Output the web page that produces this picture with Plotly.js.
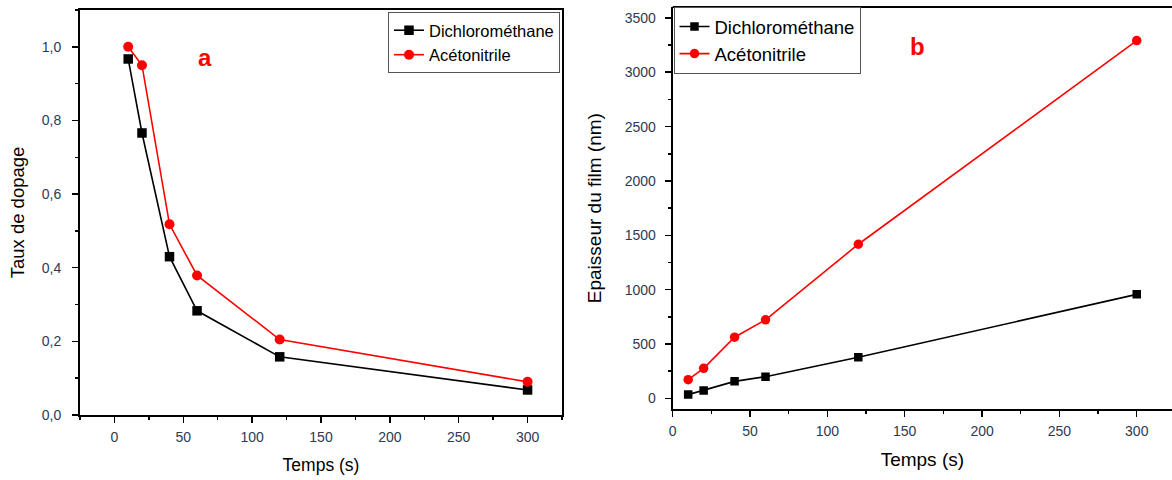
<!DOCTYPE html>
<html>
<head>
<meta charset="utf-8">
<script src="https://cdn.plot.ly/plotly-3.0.1.min.js"></script>
<style>html,body{margin:0;padding:0;background:#fff;overflow:hidden}#chart{width:1172px;height:480px}</style>
</head>
<body>
<div id="chart"></div>
<script>
// Shared time axis (s)
const temps = [10, 20, 40, 60, 120, 300];

// Panel a: Taux de dopage
const dopageDichloro = [0.967, 0.766, 0.430, 0.283, 0.158, 0.068];
const dopageAceto    = [1.000, 0.950, 0.518, 0.379, 0.205, 0.090];

// Panel b: Epaisseur du film (nm)
const epDichloro = [35, 74, 157, 200, 378, 957];
const epAceto    = [172, 277, 563, 723, 1418, 3291];

const seriesNames = ['Dichlorométhane', 'Acétonitrile'];
const panelLabels = ['a', 'b'];
const xTitle = 'Temps (s)';
const yTitleA = 'Taux de dopage';
const yTitleB = 'Epaisseur du film (nm)';

const BLACK = '#000000', RED = '#ff0000';
const FONT = 'Liberation Sans, Arial, sans-serif';

const traces = [
  {x: temps, y: dopageDichloro, name: seriesNames[0], xaxis: 'x', yaxis: 'y', legend: 'legend',
   mode: 'lines+markers', line: {color: BLACK, width: 1.6}, marker: {symbol: 'square', size: 9.5, color: BLACK}},
  {x: temps, y: dopageAceto, name: seriesNames[1], xaxis: 'x', yaxis: 'y', legend: 'legend',
   mode: 'lines+markers', line: {color: RED, width: 1.6}, marker: {symbol: 'circle', size: 10, color: RED}},
  {x: temps, y: epDichloro, name: seriesNames[0], xaxis: 'x2', yaxis: 'y2', legend: 'legend2',
   mode: 'lines+markers', line: {color: BLACK, width: 1.6}, marker: {symbol: 'square', size: 8.5, color: BLACK}},
  {x: temps, y: epAceto, name: seriesNames[1], xaxis: 'x2', yaxis: 'y2', legend: 'legend2',
   mode: 'lines+markers', line: {color: RED, width: 1.6}, marker: {symbol: 'circle', size: 9.5, color: RED}}
];

const W = 1172, H = 480;
const tickFont = {family: FONT, size: 14, color: '#2b3a55'};

function axisCommon() {
  return {
    showline: true, linecolor: '#000', linewidth: 2, ticks: 'outside', ticklen: 6, tickwidth: 1.5,
    tickcolor: '#000', showgrid: false, zeroline: false, tickfont: tickFont
  };
}
function minor(dt) {
  return {ticks: 'outside', ticklen: 3, tickwidth: 1.5, tickcolor: '#000', dtick: dt, tick0: dt, showgrid: false};
}

const layout = {
  width: W, height: H,
  margin: {l: 0, r: 0, t: 0, b: 0},
  paper_bgcolor: '#fff', plot_bgcolor: '#fff',
  separators: ', ',
  font: {family: FONT},
  showlegend: true,
  xaxis: Object.assign(axisCommon(), {
    domain: [80 / W, 562 / W], range: [-25, 325], dtick: 50, tick0: 0, mirror: true,
    anchor: 'y', ticklabelstandoff: 2, minor: minor(25),
    title: {text: xTitle, font: {family: FONT, size: 17.5, color: '#000'}, standoff: 15}
  }),
  yaxis: Object.assign(axisCommon(), {
    domain: [1 - 415 / H, 1 - 10 / H], range: [0, 1.1], dtick: 0.2, tick0: 0, tickformat: '.1f',
    mirror: true, anchor: 'x', ticklabelstandoff: 8, minor: minor(0.1),
    title: {text: yTitleA, font: {family: FONT, size: 18.5, color: '#000'}, standoff: 12}
  }),
  xaxis2: Object.assign(axisCommon(), {
    domain: [672.7 / W, 1], range: [0, 322.8], dtick: 50, tick0: 0, anchor: 'y2',
    ticklabelstandoff: 2, minor: minor(25),
    title: {text: xTitle, font: {family: FONT, size: 19, color: '#000'}, standoff: 15}
  }),
  yaxis2: Object.assign(axisCommon(), {
    domain: [1 - 409.3 / H, 1 - 7 / H], range: [-100, 3600], dtick: 500, tick0: 0, anchor: 'x2',
    ticklabelstandoff: 6, minor: minor(250),
    title: {text: yTitleB, font: {family: FONT, size: 19, color: '#000'}, standoff: 18}
  }),
  legend: {
    x: 388 / W, y: 1 - 12 / H, xanchor: 'left', yanchor: 'top',
    bgcolor: '#fff', bordercolor: '#555', borderwidth: 1,
    font: {family: FONT, size: 16.5, color: '#000'}, tracegroupgap: 0, itemwidth: 30
  },
  legend2: {
    x: 673.5 / W, y: 1 - 7 / H, xanchor: 'left', yanchor: 'top',
    bgcolor: '#fff', bordercolor: '#555', borderwidth: 1,
    font: {family: FONT, size: 18.5, color: '#000'}, tracegroupgap: 0, itemwidth: 30
  },
  annotations: [
    {xref: 'x', yref: 'y', x: 66, y: 0.97, text: '<b>' + panelLabels[0] + '</b>', showarrow: false,
     font: {family: FONT, size: 24, color: RED}},
    {xref: 'x2', yref: 'y2', x: 158, y: 3240, text: '<b>' + panelLabels[1] + '</b>', showarrow: false,
     font: {family: FONT, size: 24, color: RED}}
  ],
  shapes: [
    {type: 'line', xref: 'x2 domain', yref: 'y2 domain', x0: 0, x1: 1, y0: 1, y1: 1,
     line: {color: '#000', width: 2}}
  ]
};

Plotly.newPlot('chart', traces, layout, {staticPlot: true, displayModeBar: false});
</script>
</body>
</html>
